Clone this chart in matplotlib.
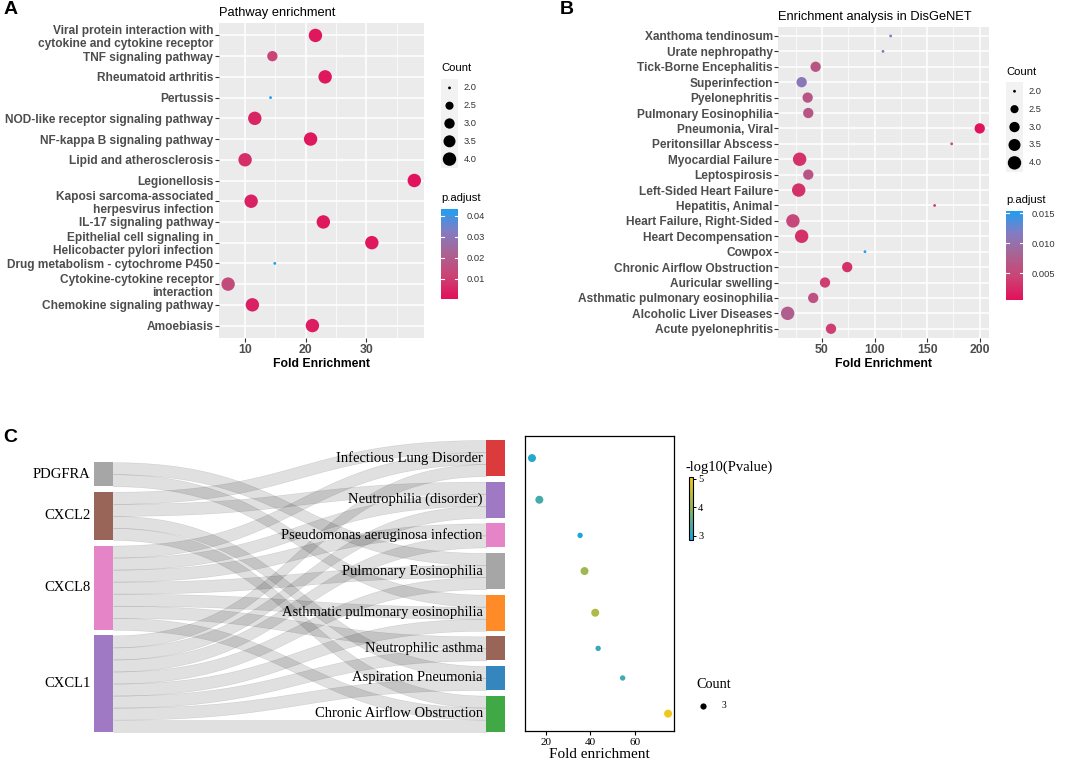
import numpy as np
import matplotlib
matplotlib.use("Agg")
import matplotlib.pyplot as plt
from matplotlib.colors import LinearSegmentedColormap, Normalize
from matplotlib.cm import ScalarMappable

W, H = 1072, 766
SANS = ["Liberation Sans", "DejaVu Sans"]
SERIF = ["Liberation Serif", "DejaVu Serif"]

# ---------------- data: panel A (KEGG pathways) ----------------
pathways = [
    "Viral protein interaction with\ncytokine and cytokine receptor",
    "TNF signaling pathway",
    "Rheumatoid arthritis",
    "Pertussis",
    "NOD-like receptor signaling pathway",
    "NF-kappa B signaling pathway",
    "Lipid and atherosclerosis",
    "Legionellosis",
    "Kaposi sarcoma-associated\nherpesvirus infection",
    "IL-17 signaling pathway",
    "Epithelial cell signaling in\nHelicobacter pylori infection",
    "Drug metabolism - cytochrome P450",
    "Cytokine-cytokine receptor\ninteraction",
    "Chemokine signaling pathway",
    "Amoebiasis",
]
fold_a = [21.6, 14.5, 23.2, 14.2, 11.6, 20.8, 10.0, 37.9, 11.0, 22.9, 30.9, 14.9, 7.2, 11.2, 21.1]
count_a = [4, 3, 4, 2, 4, 4, 4, 4, 4, 4, 4, 2, 4, 4, 4]
padj_a = [0.002, 0.012, 0.002, 0.043, 0.005, 0.002, 0.007, 0.001, 0.004, 0.002, 0.002, 0.043, 0.014, 0.004, 0.003]

# ---------------- data: panel B (DisGeNET) ----------------
diseases_b = [
    "Xanthoma tendinosum", "Urate nephropathy", "Tick-Borne Encephalitis", "Superinfection",
    "Pyelonephritis", "Pulmonary Eosinophilia", "Pneumonia, Viral", "Peritonsillar Abscess",
    "Myocardial Failure", "Leptospirosis", "Left-Sided Heart Failure", "Hepatitis, Animal",
    "Heart Failure, Right-Sided", "Heart Decompensation", "Cowpox", "Chronic Airflow Obstruction",
    "Auricular swelling", "Asthmatic pulmonary eosinophilia", "Alcoholic Liver Diseases",
    "Acute pyelonephritis",
]
fold_b = [115.3, 108.0, 44.0, 30.7, 36.4, 37.0, 200.0, 173.3, 28.8, 37.0,
          27.9, 157.1, 22.4, 30.7, 90.9, 74.0, 52.9, 41.7, 17.4, 58.6]
count_b = [2, 2, 3, 3, 3, 3, 3, 2, 4, 3, 4, 2, 4, 4, 2, 3, 3, 3, 4, 3]
padj_b = [0.0115, 0.011, 0.0065, 0.011, 0.0065, 0.0065, 0.0008, 0.006, 0.003, 0.0065,
          0.003, 0.004, 0.005, 0.003, 0.0153, 0.003, 0.004, 0.006, 0.0075, 0.004]

# ---------------- data: panel C (sankey + dotplot) ----------------
genes = ["PDGFRA", "CXCL2", "CXCL8", "CXCL1"]
gene_colors = ["#a6a6a6", "#9a6559", "#e585c8", "#9f79c3"]
diseases_c = [
    "Infectious Lung Disorder", "Neutrophilia (disorder)", "Pseudomonas aeruginosa infection",
    "Pulmonary Eosinophilia", "Asthmatic pulmonary eosinophilia", "Neutrophilic asthma",
    "Aspiration Pneumonia", "Chronic Airflow Obstruction",
]
disease_colors = ["#dc3b3d", "#9f79c3", "#e585c8", "#a6a6a6", "#fe8b28", "#9a6559", "#3585bf", "#40a845"]
disease_genes = [
    ["CXCL2", "CXCL8", "CXCL1"],
    ["CXCL2", "CXCL8", "CXCL1"],
    ["CXCL8", "CXCL1"],
    ["PDGFRA", "CXCL8", "CXCL1"],
    ["PDGFRA", "CXCL8", "CXCL1"],
    ["CXCL8", "CXCL1"],
    ["CXCL2", "CXCL1"],
    ["CXCL2", "CXCL8", "CXCL1"],
]
fold_c = [13.8, 17.1, 35.4, 37.4, 42.2, 43.5, 54.5, 74.9]
logp_c = [3.0, 3.3, 2.9, 4.15, 4.3, 3.15, 3.25, 5.0]
count_c = [3, 3, 2, 3, 3, 2, 2, 3]

fig = plt.figure(figsize=(W / 100, H / 100), dpi=100)


def box(l, t, r, b):
    return [l / W, 1 - b / H, (r - l) / W, (b - t) / H]


def ftext(x, y, s, **kw):
    return fig.text(x / W, 1 - y / H, s, **kw)


def gg_size(c):
    # ggplot area scale, range 1..6 for counts 2..4
    return 1 + 5 * np.sqrt((np.asarray(c, float) - 2) / 2)


def area(sz):
    return (1.526 * (sz + 0.33)) ** 2


cmap_p = LinearSegmentedColormap.from_list(
    "padj", ["#e2105a", "#cc4274", "#ab6291", "#837cc2", "#1e9ef2"])


def dot_panel(pos, labels, fold, count, padj, xlim, major, minor, vlim, title):
    ax = fig.add_axes(pos)
    ax.set_facecolor("#EBEBEB")
    n = len(labels)
    y = np.arange(n)[::-1]
    norm = Normalize(*vlim)
    ax.scatter(fold, y, s=area(gg_size(count)), c=padj, cmap=cmap_p, norm=norm,
               linewidths=0, zorder=3)
    ax.set_xlim(*xlim)
    ax.set_ylim(-0.6, n - 0.4)
    ax.set_xticks(major)
    ax.set_xticks(minor, minor=True)
    ax.set_yticks(y)
    ax.set_yticklabels(labels, fontsize=8.6, fontweight="bold", color="#4D4D4D",
                       family=SANS, linespacing=1.1)
    for t in ax.get_xticklabels():
        t.set_fontsize(8.8)
        t.set_fontweight("bold")
        t.set_color("#4D4D4D")
        t.set_family(SANS)
    ax.grid(which="major", color="white", lw=1.1)
    ax.grid(which="minor", axis="x", color="white", lw=0.5)
    ax.set_axisbelow(True)
    for s in ax.spines.values():
        s.set_visible(False)
    ax.tick_params(which="major", length=3, width=0.8, color="#333333", pad=1)
    ax.tick_params(which="minor", length=0)
    ax.set_xlabel("Fold Enrichment", fontsize=8.8, fontweight="bold", family=SANS, labelpad=2)
    ax.set_title(title, loc="left", fontsize=9.3, family=SANS, pad=5)
    return ax, norm


def gg_legend(left, key_top, key_step, cb_top, cb_bot, norm, ticks, ticklabels, count_title_y, padj_title_y):
    right = left + 17
    ftext(left, count_title_y, "Count", fontsize=8.1, family=SANS, va="center")
    lax = fig.add_axes(box(left, key_top, right, key_top + 5 * key_step))
    lax.set_facecolor("#F2F2F2")
    vals = [2.0, 2.5, 3.0, 3.5, 4.0]
    lax.set_xlim(0, 1)
    lax.set_ylim(5, 0)
    lax.scatter([0.5] * 5, np.arange(5) + 0.5, s=area(gg_size(vals)), color="black", linewidths=0)
    for i, v in enumerate(vals):
        lax.text(1 + 6 / 17, i + 0.5, f"{v:.1f}", fontsize=6.7, family=SANS, va="center",
                 ha="left", color="#333333", clip_on=False)
    lax.set_xticks([])
    lax.set_yticks([])
    for s in lax.spines.values():
        s.set_visible(False)

    ftext(left, padj_title_y, "p.adjust", fontsize=8.1, family=SANS, va="center")
    cax = fig.add_axes(box(left, cb_top, right, cb_bot))
    cb = fig.colorbar(ScalarMappable(norm=norm, cmap=cmap_p), cax=cax)
    cb.outline.set_visible(False)
    cb.set_ticks(ticks)
    cb.set_ticklabels(ticklabels)
    cax.tick_params(length=0, pad=6, labelsize=6.7, labelcolor="#333333")
    for t in cax.get_yticklabels():
        t.set_family(SANS)
    tr = cax.get_yaxis_transform()
    for tv in ticks:
        cax.plot([0, 0.2], [tv, tv], color="white", lw=0.8, transform=tr)
        cax.plot([0.8, 1], [tv, tv], color="white", lw=0.8, transform=tr)


# ---------------- panel A ----------------
ax_a, norm_a = dot_panel(box(219, 23, 424, 338), pathways, fold_a, count_a, padj_a,
                         (5.7, 39.5), [10, 20, 30], [15, 25, 35], (0.0003, 0.0432),
                         "Pathway enrichment")
gg_legend(441, 79, 17.8, 209, 299, norm_a, [0.01, 0.02, 0.03, 0.04],
          ["0.01", "0.02", "0.03", "0.04"], 67.7, 198)

# ---------------- panel B ----------------
ax_b, norm_b = dot_panel(box(778.3, 26.7, 989.3, 338), diseases_b, fold_b, count_b, padj_b,
                         (8.5, 209.1), [50, 100, 150, 200], [25, 75, 125, 175], (0.00056, 0.0154),
                         "Enrichment analysis in DisGeNET")
gg_legend(1006, 82.3, 17.9, 210.7, 300, norm_b, [0.005, 0.010, 0.015],
          ["0.005", "0.010", "0.015"], 71.7, 200)

# ---------------- panel C: sankey ----------------
gap = 0.46
sank_top, sank_bot = 440, 731.7
ax_s = fig.add_axes(box(94.3, sank_top, 505, sank_bot))
ax_s.axis("off")
nw = 18.7 / 410.7

d_size = [len(g) for g in disease_genes]
g_size = [sum(gn in g for g in disease_genes) for gn in genes]
total = sum(d_size) + gap * (len(diseases_c) - 1)
ax_s.set_xlim(0, 1)
ax_s.set_ylim(total, 0)

d_top = np.cumsum([0] + d_size[:-1]) + gap * np.arange(len(diseases_c))
g_off = total - (sum(g_size) + gap * (len(genes) - 1))
g_top = g_off + np.cumsum([0] + g_size[:-1]) + gap * np.arange(len(genes))

# link slots: at gene side sorted by disease order, at disease side sorted by gene order
g_used = [0.0] * len(genes)
t = np.linspace(0, 1, 80)
x0, x1 = nw, 1 - nw
xm = (x0 + x1) / 2
xs = (1 - t) ** 3 * x0 + 3 * (1 - t) ** 2 * t * xm + 3 * (1 - t) * t ** 2 * xm + t ** 3 * x1
ease = 3 * t ** 2 - 2 * t ** 3
for j, glist in enumerate(disease_genes):
    d_used = 0.0
    for gname in sorted(glist, key=genes.index):
        i = genes.index(gname)
        ya = g_top[i] + g_used[i]
        yb = d_top[j] + d_used
        g_used[i] += 1
        d_used += 1
        top = ya + (yb - ya) * ease
        ax_s.fill_between(xs, top, top + 1, color="black", alpha=0.12, lw=0.4,
                          edgecolor=(0, 0, 0, 0.05), zorder=1)

for i, gname in enumerate(genes):
    ax_s.add_patch(plt.Rectangle((0, g_top[i]), nw, g_size[i], color=gene_colors[i], lw=0, zorder=3))
    ax_s.annotate(gname, (0, g_top[i] + g_size[i] / 2), xytext=(-2.5, 0), textcoords="offset points",
                  ha="right", va="center", fontsize=10.5, family=SERIF, zorder=4)
for j, dname in enumerate(diseases_c):
    ax_s.add_patch(plt.Rectangle((1 - nw, d_top[j]), nw, d_size[j], color=disease_colors[j], lw=0, zorder=3))
    ax_s.annotate(dname, (1 - nw, d_top[j] + d_size[j] / 2), xytext=(-2.5, 0), textcoords="offset points",
                  ha="right", va="center", fontsize=10.5, family=SERIF, zorder=4)

# ---------------- panel C: dotplot ----------------
px_unit = (sank_bot - sank_top) / total
dot_top, dot_bot = 436, 730.7
ax_d = fig.add_axes(box(525.3, dot_top, 674.3, dot_bot))
centers = d_top + np.array(d_size) / 2
cmap_c = LinearSegmentedColormap.from_list("lp", ["#14a6dc", "#8fb35e", "#f7c815"])
norm_c = Normalize(2.85, 5.08)
ax_d.scatter(fold_c, centers, s=15 + (np.array(count_c) - 2) * 18, c=logp_c, cmap=cmap_c,
             norm=norm_c, linewidths=0, zorder=3)
ax_d.set_xlim(10.8, 77.7)
ax_d.set_ylim((dot_bot - sank_top) / px_unit, (dot_top - sank_top) / px_unit)
ax_d.set_yticks([])
ax_d.set_xticks([20, 40, 60])
ax_d.tick_params(axis="x", length=3, width=0.8, pad=2, labelsize=8)
for t_ in ax_d.get_xticklabels():
    t_.set_family(SERIF)
for s in ax_d.spines.values():
    s.set_linewidth(0.9)
ax_d.set_xlabel("Fold enrichment", fontsize=11, family=SERIF, labelpad=1)

ftext(685, 467, "-log10(Pvalue)", fontsize=10.5, family=SERIF, va="center", ha="left")
cax_c = fig.add_axes(box(689.3, 476.7, 693.3, 540))
cb_c = fig.colorbar(ScalarMappable(norm=norm_c, cmap=cmap_c), cax=cax_c)
cb_c.set_ticks([3, 4, 5])
cb_c.outline.set_linewidth(0.8)
cax_c.tick_params(length=2, width=0.7, pad=1.5, labelsize=7.5)
for t_ in cax_c.get_yticklabels():
    t_.set_family(SERIF)

ftext(696.7, 684, "Count", fontsize=10.3, family=SERIF, va="center", ha="left")
kax = fig.add_axes(box(697, 700, 709, 712))
kax.axis("off")
kax.set_xlim(-1, 1)
kax.set_ylim(-1, 1)
kax.scatter([0], [0], s=20, color="black", linewidths=0)
ftext(721.7, 705.7, "3", fontsize=7, family=SERIF, va="center", ha="left")

# panel letters
ftext(11, 10, "A", fontsize=14, fontweight="bold", family=SANS, ha="center", va="center")
ftext(567, 9, "B", fontsize=14, fontweight="bold", family=SANS, ha="center", va="center")
ftext(10, 437, "C", fontsize=14, fontweight="bold", family=SANS, ha="center", va="center")

fig.savefig("out.png", dpi=100)
